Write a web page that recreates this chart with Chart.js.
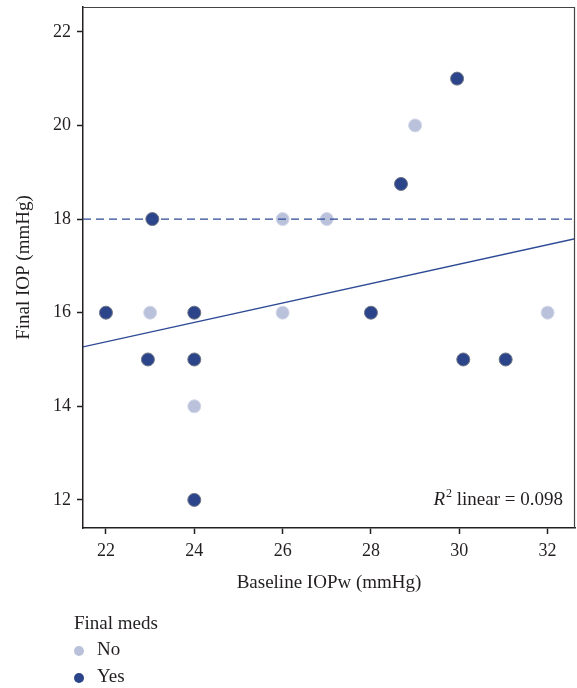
<!DOCTYPE html>
<html>
<head>
<meta charset="utf-8">
<script src="https://cdn.jsdelivr.net/npm/chart.js@4/dist/chart.umd.min.js"></script>
<style>
  html, body { margin: 0; padding: 0; background: #fff; overflow: hidden; }
  #wrap { width: 577px; height: 688px; }
</style>
</head>
<body>
<div id="wrap"><canvas id="chart"></canvas></div>
<script>
// データ
const noPoints = [
  { x: 23, y: 16 }, { x: 24, y: 14 }, { x: 26, y: 18 }, { x: 26, y: 16 },
  { x: 27, y: 18 }, { x: 29, y: 20 }, { x: 32, y: 16 }
];
const yesPoints = [
  { x: 22, y: 16 }, { x: 23.05, y: 18 }, { x: 22.95, y: 15 }, { x: 24, y: 16 },
  { x: 24, y: 15 }, { x: 24, y: 12 }, { x: 28.68, y: 18.75 }, { x: 29.95, y: 21 },
  { x: 28, y: 16 }, { x: 30.09, y: 15 }, { x: 31.05, y: 15 }
];
const fitLine = [{ x: 21.48, y: 15.27 }, { x: 32.62, y: 17.58 }];
const refLine = [{ x: 21.48, y: 18 }, { x: 32.62, y: 18 }];
const xTicks = [22, 24, 26, 28, 30, 32];
const yTicks = [12, 14, 16, 18, 20, 22];
const legendTitle = 'Final meds';
const r2Text = ' linear = 0.098';

const FONT = '"Liberation Serif", "DejaVu Serif", serif';
const DARK = '#2b448a';
const LIGHT = '#b9c1db';
const INK = '#231f20';

/**
 * 枠線・R²・凡例の描画
 */
const extras = {
  id: 'extras',
  afterDraw(chart) {
    const ctx = chart.ctx;
    const a = chart.chartArea;
    ctx.save();
    // 上と右の枠
    ctx.strokeStyle = '#444';
    ctx.lineWidth = 1.2;
    ctx.beginPath();
    ctx.moveTo(a.left, a.top + 0.5);
    ctx.lineTo(a.right - 0.5, a.top + 0.5);
    ctx.lineTo(a.right - 0.5, a.bottom);
    ctx.stroke();

    // R² linear
    ctx.fillStyle = INK;
    ctx.textBaseline = 'alphabetic';
    ctx.font = '19px ' + FONT;
    const restW = ctx.measureText(r2Text).width;
    ctx.font = '12px ' + FONT;
    const supW = ctx.measureText('2').width;
    ctx.font = 'italic 19px ' + FONT;
    const rW = ctx.measureText('R').width;
    let x = a.right - 13 - restW - supW - rW;
    const base = a.bottom - 23;
    ctx.fillText('R', x, base);
    x += rW + 1;
    ctx.font = '12px ' + FONT;
    ctx.fillText('2', x, base - 8);
    x += supW;
    ctx.font = '19px ' + FONT;
    ctx.fillText(r2Text, x, base);

    // 凡例
    ctx.font = '19px ' + FONT;
    ctx.textBaseline = 'middle';
    ctx.fillText(legendTitle, 74, 624);
    chart.data.datasets.filter(d => d.showInLegend).forEach((d, i) => {
      const cy = 650 + i * 27;
      ctx.beginPath();
      ctx.arc(79, cy + 1, 5, 0, Math.PI * 2);
      ctx.fillStyle = d.backgroundColor;
      ctx.fill();
      ctx.fillStyle = INK;
      ctx.fillText(d.label, 97, cy);
    });
    ctx.restore();
  }
};

new Chart(document.getElementById('chart'), {
  type: 'scatter',
  data: {
    datasets: [
      {
        label: 'fit',
        type: 'line',
        data: fitLine,
        borderColor: '#2e4a96',
        borderWidth: 1.3,
        pointRadius: 0,
        fill: false
      },
      {
        label: 'ref',
        type: 'line',
        data: refLine,
        borderColor: '#2e4a96',
        borderWidth: 1.3,
        borderDash: [8, 5],
        pointRadius: 0,
        fill: false
      },
      {
        label: 'No',
        showInLegend: true,
        data: noPoints,
        backgroundColor: LIGHT,
        borderColor: '#d3d8e8',
        borderWidth: 1,
        pointRadius: 6.5
      },
      {
        label: 'Yes',
        showInLegend: true,
        data: yesPoints,
        backgroundColor: DARK,
        borderColor: '#6f7686',
        borderWidth: 1,
        pointRadius: 6.5
      }
    ]
  },
  options: {
    responsive: true,
    maintainAspectRatio: false,
    animation: false,
    layout: { autoPadding: false, padding: { left: 0, top: 7, right: 2, bottom: 88 } },
    plugins: {
      legend: { display: false },
      tooltip: { enabled: false }
    },
    scales: {
      x: {
        type: 'linear',
        min: 21.48,
        max: 32.62,
        afterBuildTicks: s => { s.ticks = xTicks.map(v => ({ value: v })); },
        afterFit: s => { s.height = 72; s.paddingLeft = 0; s.paddingRight = 0; },
        grid: { drawOnChartArea: false, tickLength: 6, color: INK, tickWidth: 1.5 },
        border: { color: INK, width: 1.5 },
        ticks: { color: INK, font: { family: FONT, size: 18 }, padding: 6 },
        title: {
          display: true,
          text: 'Baseline IOPw (mmHg)',
          color: INK,
          font: { family: FONT, size: 19 },
          padding: { top: 0, bottom: 6 }
        }
      },
      y: {
        type: 'linear',
        min: 11.4,
        max: 22.53,
        afterBuildTicks: s => { s.ticks = yTicks.map(v => ({ value: v })); },
        afterFit: s => { s.width = 83; s.paddingTop = 0; s.paddingBottom = 0; },
        grid: { drawOnChartArea: false, tickLength: 6, color: INK, tickWidth: 1.5 },
        border: { color: INK, width: 1.5 },
        ticks: { color: INK, font: { family: FONT, size: 18 }, padding: 6 },
        title: {
          display: true,
          text: 'Final IOP (mmHg)',
          color: INK,
          font: { family: FONT, size: 19 },
          padding: { top: 13, bottom: 0 }
        }
      }
    }
  },
  plugins: [extras]
});
</script>
</body>
</html>
